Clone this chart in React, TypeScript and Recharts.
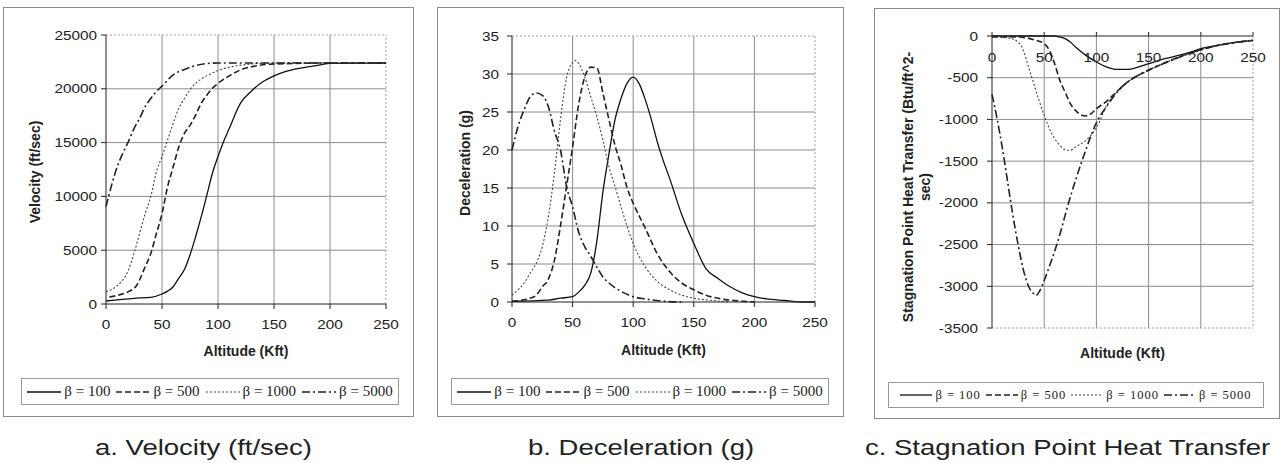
import React from "react";
import { LineChart, Line, XAxis, YAxis, CartesianGrid, ReferenceLine, Label } from "recharts";

// altitude axis (Kft), shared by the three panels
const ALT_TICKS = [0, 50, 100, 150, 200, 250];
const ALT_GRID = [50, 100, 150, 200];

// a. velocity (ft/sec)
const VEL_TICKS = [0, 5000, 10000, 15000, 20000, 25000];
const V_ALT_100 = [0, 25, 40, 50, 55, 60, 65, 70, 75, 80, 85, 90, 95, 100, 105, 110, 120, 130, 140, 150, 160, 175, 190, 200, 250];
const VEL_100 = [280, 530, 620, 930, 1200, 1600, 2400, 3200, 4550, 6250, 8100, 10100, 12150, 13700, 15100, 16300, 18650, 19800, 20650, 21200, 21600, 21950, 22200, 22370, 22400];
const V_ALT_500 = [3, 10, 20, 27, 35, 40, 45, 50, 55, 60, 65, 70, 75, 80, 85, 90, 95, 100, 110, 120, 130, 150, 200, 250];
const VEL_500 = [650, 800, 1150, 1670, 3470, 4700, 6550, 8400, 10900, 12750, 14600, 15850, 16600, 17550, 18650, 19400, 20050, 20500, 21200, 21750, 22050, 22300, 22400, 22400];
const V_ALT_1000 = [0, 10, 20, 25, 30, 35, 40, 45, 50, 55, 60, 65, 70, 75, 80, 90, 100, 110, 130, 150, 250];
const VEL_1000 = [1150, 1700, 3150, 4700, 6550, 8400, 10000, 12300, 13700, 15250, 16800, 18200, 19100, 19900, 20500, 21200, 21700, 22000, 22300, 22400, 22400];
const V_ALT_5000 = [0, 5, 10, 15, 20, 25, 30, 35, 40, 45, 50, 60, 70, 80, 90, 100, 250];
const VEL_5000 = [9050, 11050, 12750, 14000, 15100, 16300, 17250, 18350, 19100, 19750, 20250, 21300, 21800, 22150, 22350, 22400, 22400];

// b. deceleration (g)
const DEC_TICKS = [0, 5, 10, 15, 20, 25, 30, 35];
const D_ALT_100 = [0, 30, 40, 50, 55, 60, 65, 70, 75, 80, 85, 90, 95, 100, 105, 110, 115, 120, 125, 130, 140, 150, 160, 170, 180, 190, 200, 210, 225, 240, 250];
const DEC_100 = [0.1, 0.25, 0.5, 0.7, 1.3, 2.2, 3.8, 8, 14.5, 19.5, 24, 26.8, 28.8, 29.6, 28.7, 26.6, 24, 21, 18.5, 16.3, 11.5, 7.7, 4.4, 3.1, 2.0, 1.2, 0.7, 0.4, 0.2, 0, 0];
const D_ALT_500 = [0, 10, 15, 20, 25, 30, 35, 40, 45, 50, 55, 60, 65, 70, 75, 80, 85, 90, 95, 100, 110, 120, 130, 140, 150, 160, 175, 190, 200];
const DEC_500 = [0.1, 0.3, 0.5, 0.9, 2.0, 3.0, 5.5, 10, 15.2, 20.4, 26, 29.6, 30.9, 30.8, 27.5, 24, 20.6, 18, 15, 13, 9.7, 6.3, 4.0, 2.5, 1.6, 0.9, 0.35, 0.1, 0];
const D_ALT_1000 = [0, 5, 10, 15, 20, 25, 30, 35, 40, 45, 50, 52, 55, 60, 65, 70, 75, 80, 85, 90, 100, 110, 120, 130, 140, 150, 165, 180];
const DEC_1000 = [0.9, 1.6, 2.5, 3.8, 5.1, 7.3, 11.2, 17, 24, 29.5, 31.5, 31.8, 31.4, 29.6, 27.0, 24.4, 21.3, 17.8, 15.2, 12.5, 7.7, 4.6, 2.7, 1.6, 0.9, 0.5, 0.2, 0];
const D_ALT_5000 = [0, 5, 10, 15, 20, 25, 30, 35, 40, 45, 50, 55, 60, 65, 70, 75, 80, 90, 100, 110, 125, 140];
const DEC_5000 = [20.0, 23.1, 25.3, 27.0, 27.5, 27.2, 25.7, 22.5, 20, 15.2, 12.5, 9.2, 7.3, 6.0, 4.6, 3.3, 2.5, 1.4, 0.7, 0.4, 0.1, 0];

// c. stagnation point heat transfer (Btu/ft^2-sec)
const HEAT_TICKS = [-3500, -3000, -2500, -2000, -1500, -1000, -500, 0];
const H_ALT_100 = [0, 60, 65, 70, 75, 80, 90, 100, 110, 120, 130, 140, 150, 160, 175, 190, 200, 225, 250];
const HEAT_100 = [0, 0, -12, -32, -72, -132, -232, -312, -372, -400, -400, -372, -332, -292, -244, -192, -152, -92, -52];
const H_ALT_500 = [0, 25, 40, 50, 55, 60, 65, 70, 75, 80, 85, 90, 95, 100, 110, 120, 130, 140, 150, 160, 175, 200, 225, 250];
const HEAT_500 = [-12, -12, -44, -92, -172, -332, -532, -671, -811, -891, -943, -959, -931, -871, -780, -660, -551, -471, -411, -352, -272, -164, -92, -52];
const H_ALT_1000 = [0, 15, 25, 30, 35, 40, 45, 50, 55, 60, 65, 70, 75, 80, 90, 100, 110, 120, 130, 140, 150, 175, 200, 250];
const HEAT_1000 = [-12, -24, -72, -172, -372, -571, -771, -951, -1111, -1231, -1310, -1362, -1370, -1330, -1250, -1100, -830, -665, -551, -475, -413, -276, -164, -52];
const H_ALT_5000 = [0, 5, 10, 15, 20, 25, 30, 35, 40, 42, 45, 50, 55, 60, 65, 70, 75, 80, 85, 90, 100, 110, 120, 130, 140, 150, 175, 200, 250];
const HEAT_5000 = [-700, -1000, -1350, -1750, -2150, -2500, -2800, -3000, -3090, -3110, -3070, -2930, -2760, -2580, -2380, -2150, -1930, -1730, -1540, -1360, -1040, -840, -670, -550, -470, -408, -276, -164, -52];

const LEGEND = ["β = 100", "β = 500", "β = 1000", "β = 5000"];

const LINE_STYLE = [
  { dash: undefined, width: 1.3, color: "#111" },
  { dash: "6 3", width: 1.6, color: "#222" },
  { dash: "2 2", width: 1.1, color: "#444" },
  { dash: "8 3 2 3", width: 1.6, color: "#222" },
];

const SANS = "'Liberation Sans', Arial, sans-serif";
const SERIF = "'Liberation Serif', 'Times New Roman', serif";

const zip = (xs: number[], ys: number[]) => xs.map((x, i) => ({ x, y: ys[i] }));

const bottomTick = (props: any) => (
  <g transform={`translate(${props.x},${props.y})`}>
    <text transform="scale(1.18,1)" textAnchor="middle" dy="0.71em" fontSize={13} fontFamily={SANS} fill="#222">
      {props.payload.value}
    </text>
  </g>
);

const topTick = (props: any) => (
  <g transform={`translate(${props.x},${props.y + 25})`}>
    <text transform="scale(1.18,1)" textAnchor="middle" dy="0.355em" fontSize={13} fontFamily={SANS} fill="#222">
      {props.payload.value}
    </text>
  </g>
);

const leftTick = (props: any) => (
  <g transform={`translate(${props.x},${props.y})`}>
    <text transform="scale(1.18,1)" textAnchor="end" dy="0.355em" fontSize={13} fontFamily={SANS} fill="#222">
      {props.payload.value}
    </text>
  </g>
);

type PanelProps = {
  left: number;
  width: number;
  height: number;
  margin: { top: number; right: number; bottom: number; left: number };
  yTicks: number[];
  xTop?: boolean;
  yTickMargin: number;
  series: { x: number; y: number }[][];
  yTitle: string[];
  yTitleX: number[];
  yTitleY: number;
  xTitleY: number;
};

function Panel(p: PanelProps) {
  const yMin = p.yTicks[0];
  const yMax = p.yTicks[p.yTicks.length - 1];
  const yGrid = p.yTicks.filter((v) => v !== yMin && v !== yMax);
  const yEdge = p.xTop ? yMin : yMax;
  return (
    <div style={{ position: "absolute", left: p.left, top: 0 }}>
      <LineChart width={p.width} height={p.height} margin={p.margin}>
        <CartesianGrid stroke="#8c8c8c" horizontalValues={yGrid} verticalValues={ALT_GRID} />
        <ReferenceLine x={250} stroke="#a0a0a0" strokeDasharray="2 2" />
        <ReferenceLine y={yEdge} stroke="#a0a0a0" strokeDasharray="2 2" />
        <XAxis
          type="number"
          dataKey="x"
          domain={[0, 250]}
          ticks={ALT_TICKS}
          interval={0}
          orientation={p.xTop ? "top" : "bottom"}
          height={p.xTop ? 20 : 45}
          stroke="#222"
          tickSize={p.xTop ? 4 : 5}
          tickMargin={p.xTop ? 0 : 11}
          tick={p.xTop ? topTick : bottomTick}
        >
          <Label
            content={(lp: any) => (
              <text
                x={lp.viewBox.x + lp.viewBox.width / 2}
                y={p.xTitleY}
                dy="0.355em"
                textAnchor="middle"
                fontSize={14}
                fontWeight="bold"
                fontFamily={SANS}
                fill="#222"
              >
                Altitude (Kft)
              </text>
            )}
          />
        </XAxis>
        <YAxis
          type="number"
          domain={[yMin, yMax]}
          ticks={p.yTicks}
          interval={0}
          width={70}
          stroke="#222"
          tickSize={5}
          tickMargin={p.yTickMargin}
          tick={leftTick}
        >
          <Label
            content={() => (
              <g>
                {p.yTitle.map((t, i) => (
                  <text
                    key={i}
                    transform={`translate(${p.yTitleX[i]},${p.yTitleY}) rotate(-90)`}
                    dy="0.355em"
                    textAnchor="middle"
                    fontSize={14}
                    fontWeight="bold"
                    fontFamily={SANS}
                    fill="#222"
                  >
                    {t}
                  </text>
                ))}
              </g>
            )}
          />
        </YAxis>
        {p.series.map((d, i) => (
          <Line
            key={i}
            data={d}
            dataKey="y"
            name={LEGEND[i]}
            type="monotone"
            stroke={LINE_STYLE[i].color}
            strokeWidth={LINE_STYLE[i].width}
            strokeDasharray={LINE_STYLE[i].dash}
            dot={false}
            activeDot={false}
            isAnimationActive={false}
          />
        ))}
      </LineChart>
    </div>
  );
}

function LegendBox(props: {
  left: number;
  top: number;
  width: number;
  height: number;
  fontSize: number;
  spacing: number;
  gap: number;
  sample: number;
}) {
  return (
    <div
      style={{
        position: "absolute",
        left: props.left,
        top: props.top,
        width: props.width,
        height: props.height,
        boxSizing: "border-box",
        border: "1px solid #9a9a9a",
        display: "flex",
        alignItems: "center",
        justifyContent: "center",
        gap: props.gap,
        fontFamily: SERIF,
        fontSize: props.fontSize,
        letterSpacing: props.spacing,
        color: "#222",
        whiteSpace: "nowrap",
      }}
    >
      {LEGEND.map((name, i) => (
        <div key={name} style={{ display: "flex", alignItems: "center" }}>
          <svg width={props.sample} height={6} style={{ marginRight: 3 }}>
            <line
              x1={0}
              y1={3}
              x2={props.sample}
              y2={3}
              stroke={LINE_STYLE[i].color}
              strokeWidth={LINE_STYLE[i].width}
              strokeDasharray={LINE_STYLE[i].dash}
            />
          </svg>
          <span>{name}</span>
        </div>
      ))}
    </div>
  );
}

function Frame(props: { left: number; top: number; width: number; height: number }) {
  return (
    <div
      style={{
        position: "absolute",
        left: props.left,
        top: props.top,
        width: props.width,
        height: props.height,
        boxSizing: "border-box",
        border: "1px solid #8c8c8c",
      }}
    />
  );
}

function Caption(props: { left: number; text: string }) {
  return (
    <div
      style={{
        position: "absolute",
        left: props.left,
        top: 437,
        fontFamily: SANS,
        fontSize: 22,
        lineHeight: "22px",
        color: "#222",
        whiteSpace: "nowrap",
        transform: "scaleX(1.25)",
        transformOrigin: "left top",
      }}
    >
      {props.text}
    </div>
  );
}

export default function App() {
  return (
    <div style={{ position: "absolute", left: 0, top: 0, width: 1280, height: 463, background: "#fff", overflow: "hidden" }}>
      <Frame left={3} top={7} width={411} height={410} />
      <Frame left={437} top={7} width={407} height={410} />
      <Frame left={874} top={8} width={406} height={411} />

      <Panel
        left={0}
        width={420}
        height={370}
        margin={{ top: 35, right: 34, bottom: 21, left: 36 }}
        yTicks={VEL_TICKS}
        yTickMargin={4}
        series={[zip(V_ALT_100, VEL_100), zip(V_ALT_500, VEL_500), zip(V_ALT_1000, VEL_1000), zip(V_ALT_5000, VEL_5000)]}
        yTitle={["Velocity (ft/sec)"]}
        yTitleX={[35]}
        yTitleY={172}
        xTitleY={351}
      />
      <Panel
        left={430}
        width={420}
        height={370}
        margin={{ top: 36, right: 35, bottom: 23, left: 12 }}
        yTicks={DEC_TICKS}
        yTickMargin={8}
        series={[zip(D_ALT_100, DEC_100), zip(D_ALT_500, DEC_500), zip(D_ALT_1000, DEC_1000), zip(D_ALT_5000, DEC_5000)]}
        yTitle={["Deceleration (g)"]}
        yTitleX={[35]}
        yTitleY={163}
        xTitleY={350}
      />
      <Panel
        left={860}
        width={420}
        height={375}
        margin={{ top: 16, right: 27, bottom: 47, left: 62 }}
        yTicks={HEAT_TICKS}
        xTop
        yTickMargin={9}
        series={[zip(H_ALT_100, HEAT_100), zip(H_ALT_500, HEAT_500), zip(H_ALT_1000, HEAT_1000), zip(H_ALT_5000, HEAT_5000)]}
        yTitle={["Stagnation Point Heat Transfer (Btu/ft^2-", "sec)"]}
        yTitleX={[48, 65]}
        yTitleY={187}
        xTitleY={353}
      />

      <LegendBox left={21} top={378} width={378} height={27} fontSize={15} spacing={0} gap={6} sample={34} />
      <LegendBox left={451} top={378} width={378} height={27} fontSize={15} spacing={0} gap={6} sample={34} />
      <LegendBox left={888} top={382} width={376} height={26} fontSize={12.5} spacing={1} gap={5} sample={32} />

      <Caption left={95} text="a. Velocity (ft/sec)" />
      <Caption left={528} text="b. Deceleration (g)" />
      <Caption left={865} text="c. Stagnation Point Heat Transfer" />
    </div>
  );
}
